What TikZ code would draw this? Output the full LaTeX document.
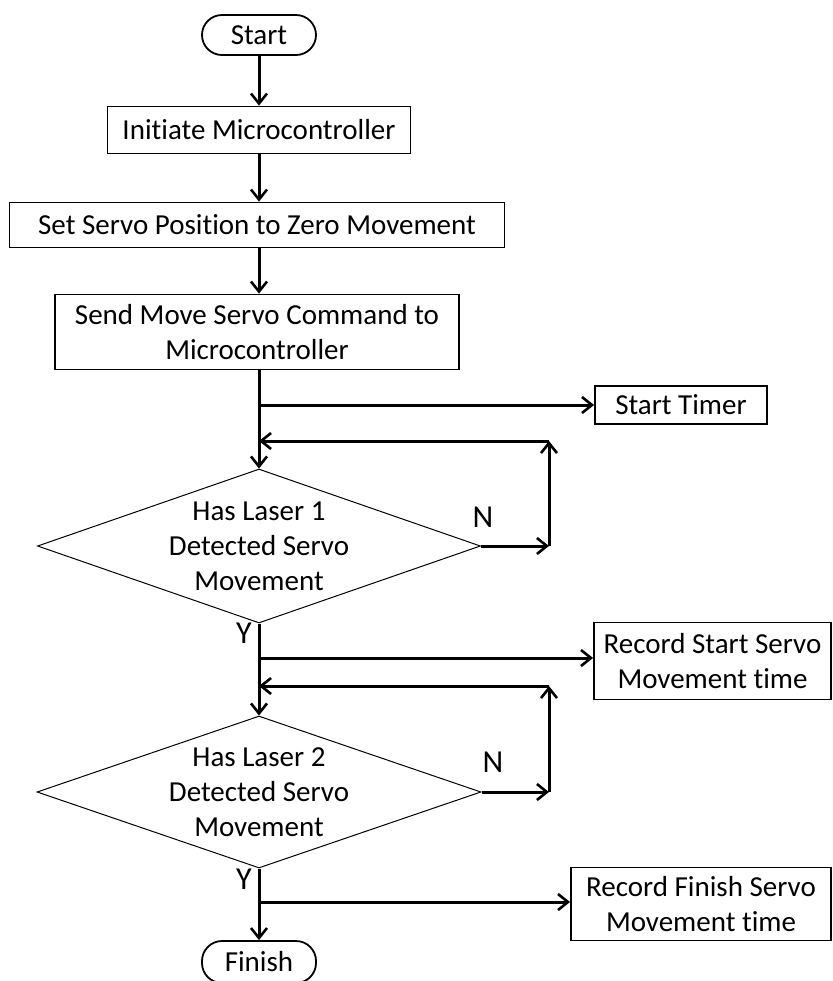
\documentclass[tikz,border=0pt]{standalone}
\usepackage{fontspec}
\setmainfont{Carlito}[Ligatures=CommonOff]
\usetikzlibrary{arrows.meta,shapes.geometric}

\begin{document}
\begin{tikzpicture}[
    x=0.5pt, y=-0.5pt,
    font=\fontsize{14.5pt}{17.5pt}\selectfont,
    >={Straight Barb[length=5pt,width=8pt,line width=1.3pt]},
    box/.style={
        draw,
        line width=0.9pt,
        inner sep=2pt,
        align=center
    },
    term/.style={
        box,
        rounded corners=10pt
    },
    dec/.style={
        draw,
        diamond,
        line width=0.5pt,
        inner sep=0pt,
        aspect=2.9,
        align=center
    },
    arr/.style={->, line width=1.5pt}
]
    \useasboundingbox (0,0) rectangle (833,981);

    \node[term, minimum width=57pt, minimum height=20pt] (start) at (259,35) {Start};
    \node[box, minimum width=151.5pt, minimum height=23.5pt] (init) at (259,130)
        {Initiate Microcontroller};
    \node[box, minimum width=247.5pt, minimum height=22.5pt] (zero) at (257,225)
        {Set Servo Position to Zero Movement};
    \node[box, minimum width=202pt, minimum height=37.5pt] (send) at (257,332)
        {Send Move Servo Command to\\Microcontroller};

    \node[dec, minimum width=221.5pt, minimum height=77pt] (las1) at (259,546)
        {Has Laser 1\\Detected Servo\\Movement};
    \node[dec, minimum width=222pt, minimum height=76pt] (las2) at (259,792)
        {Has Laser 2\\Detected Servo\\Movement};
    \node[term, minimum width=57pt, minimum height=21pt] (finish) at (259,962) {Finish};

    \node[box, minimum width=86pt, minimum height=19pt] (timer) at (681,405) {Start Timer};
    \node[box, minimum width=118.5pt, minimum height=38.5pt] (rec1) at (712.5,661)
        {Record Start Servo\\Movement time};
    \node[box, minimum width=130pt, minimum height=36.5pt] (rec2) at (701,904)
        {Record Finish Servo\\Movement time};

    % junctions on the main line and corners of the loops
    \coordinate (br1) at (259,405);
    \coordinate (ret1) at (259,441);
    \coordinate (top1) at (549,441);
    \coordinate (br2) at (259,658);
    \coordinate (ret2) at (259,686);
    \coordinate (top2) at (549,686);
    \coordinate (br3) at (259,902);

    \draw[arr] (start) -- (init);
    \draw[arr] (init) -- (zero.north -| init);
    \draw[arr] (zero.south -| init) -- (send.north -| init);
    \draw[arr] (send.south -| las1) -- (las1.north);
    \draw[arr] (br1) -- (br1 -| timer.west);

    \draw[arr] (las1.east) -- (las1.east -| top1);
    \draw[arr] (las1.east -| top1) -- (top1);
    \draw[arr] (top1) -- (ret1);

    \draw[arr] (las1.south) -- (las2.north);
    \draw[arr] (br2) -- (br2 -| rec1.west);
    \draw[arr] (las2.east) -- (las2.east -| top2);
    \draw[arr] (las2.east -| top2) -- (top2);
    \draw[arr] (top2) -- (ret2);

    \draw[arr] (las2.south) -- (finish.north);
    \draw[arr] (br3) -- (br3 -| rec2.west);

    \node[font=\fontsize{16pt}{18pt}\selectfont] (n1) at (483,517) {N};
    \node[font=\fontsize{16pt}{18pt}\selectfont] (y1) at (244,633) {Y};
    \node[font=\fontsize{16pt}{18pt}\selectfont] (n2) at (493,762) {N};
    \node[font=\fontsize{16pt}{18pt}\selectfont] (y2) at (244,879) {Y};
\end{tikzpicture}
\end{document}
